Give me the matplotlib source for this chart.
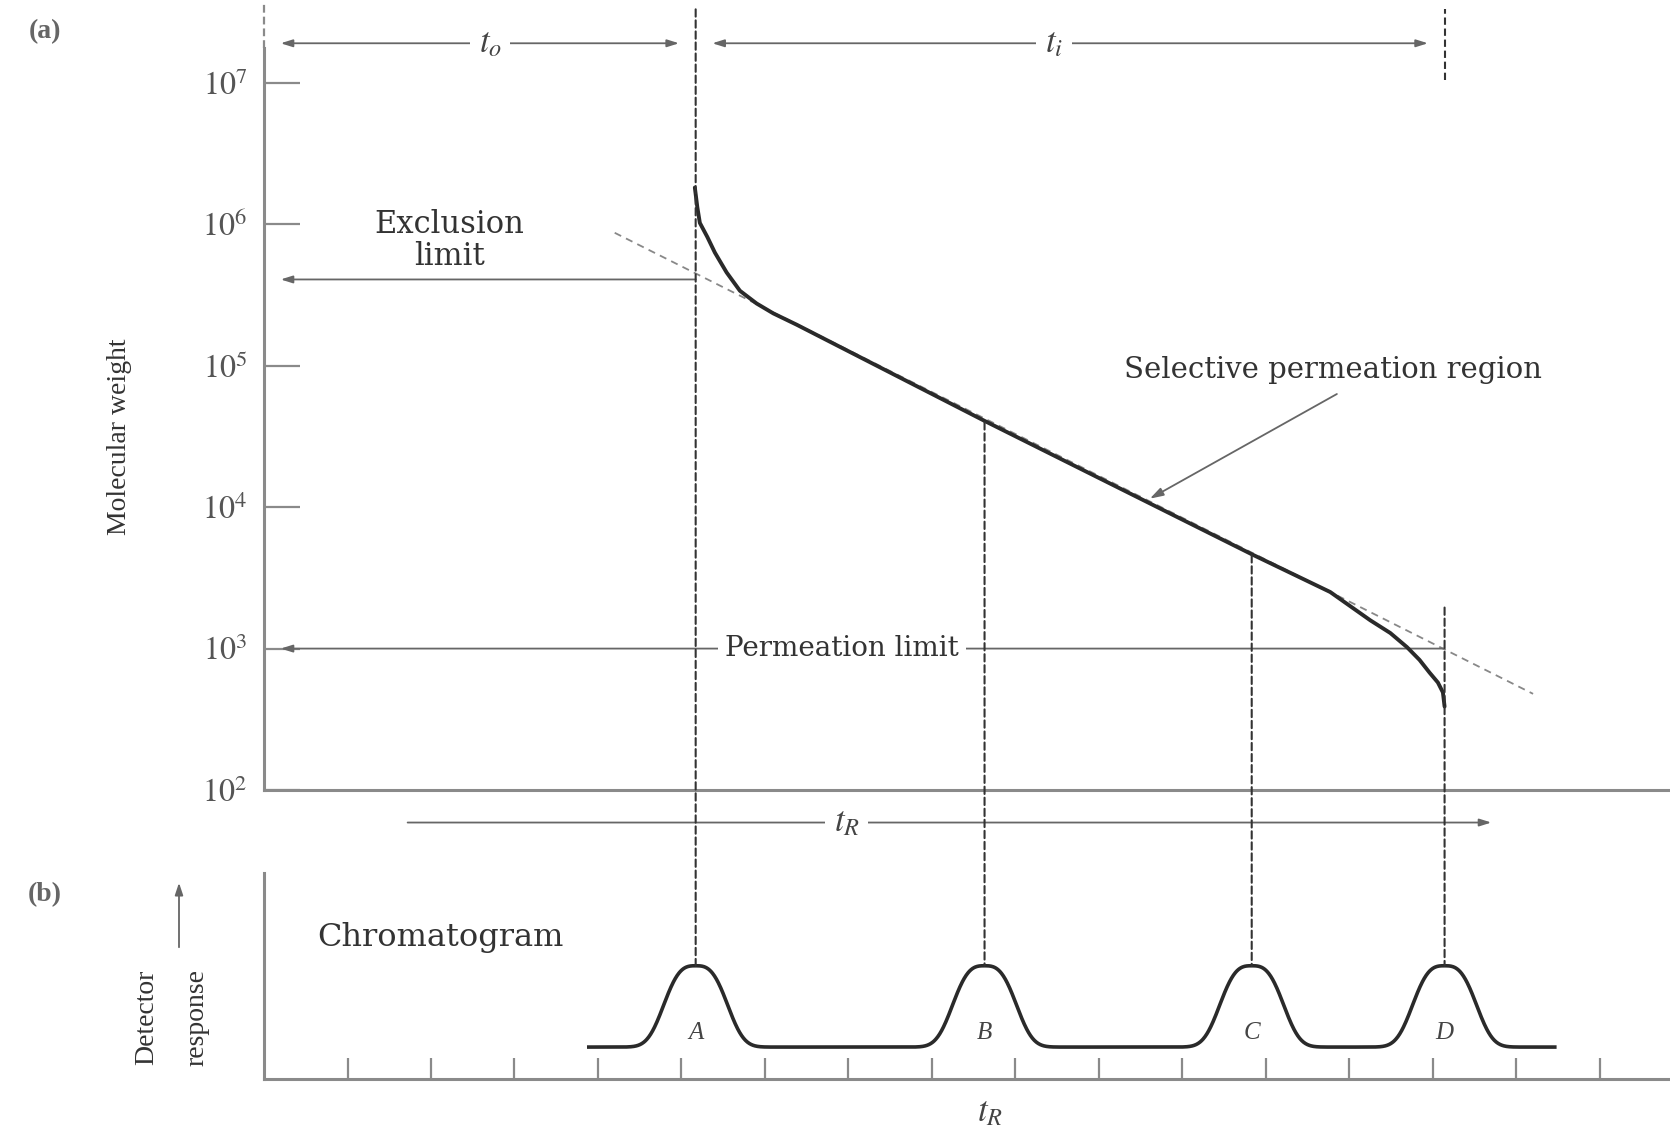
import numpy as np
import matplotlib
matplotlib.use("Agg")
import matplotlib.pyplot as plt
from matplotlib.patches import ConnectionPatch, FancyArrowPatch
from matplotlib.ticker import NullLocator

plt.rcParams['font.family'] = ['Liberation Serif', 'DejaVu Serif']
plt.rcParams['mathtext.fontset'] = 'stix'

# --- values --------------------------------------------------------
ytick_exp = [2, 3, 4, 5, 6, 7]

# calibration curve: retention time (tick units) vs log10(molecular weight)
curve_t = [5.16, 5.19, 5.22, 5.31, 5.40, 5.54, 5.70, 5.90, 6.10, 6.38,
           8.63, 11.82, 12.77, 13.01, 13.25, 13.49, 13.69, 13.84, 13.96,
           14.06, 14.12, 14.14]
curve_logmw = [6.26, 6.12, 6.01, 5.91, 5.80, 5.66, 5.53, 5.44, 5.37, 5.29,
               4.61, 3.67, 3.40, 3.30, 3.20, 3.11, 3.01, 2.92, 2.83,
               2.76, 2.69, 2.59]

# dashed extrapolation of the linear region
ext_t = [4.20, 15.20]
ext_logmw = [5.94, 2.68]

peak_names = ['A', 'B', 'C', 'D']
peak_t = [5.17, 8.63, 11.83, 14.14]
peak_curve_logmw = [7.52, 4.60, 3.66, 3.29]   # where each drop line starts
peak_height = 1.10
peak_halfwidth = 0.44
baseline_level = 0.31
baseline_t = [3.89, 15.46]

exclusion_logmw = 5.61
permeation_logmw = 3.0
t_arrow_logmw = 7.28
tR_arrow_t = [1.72, 14.70]
tR_arrow_logmw = 1.77

xticks = list(range(1, 17))

# --- figure ---------------------------------------------------------
fig = plt.figure(figsize=(16.7, 11.31), dpi=100)
xl = (0, 16.84)
axc = '#8a8a8a'
ink = '#2a2a2a'
dash = (0, (3.5, 1.8))

ax1 = fig.add_axes([0.1581, 0.3015, 0.8419, 0.694])
ax2 = fig.add_axes([0.1581, 0.046, 0.8419, 0.182])

# (a) calibration plot
ax1.set_yscale('log')
ax1.set_xlim(xl)
ax1.set_ylim(1e2, 10**7.55)
for s in ['top', 'right']:
    ax1.spines[s].set_visible(False)
ax1.spines['left'].set_bounds(1e2, 10**7.25)
for s in ['left', 'bottom']:
    ax1.spines[s].set_color(axc)
    ax1.spines[s].set_linewidth(2.2)
ax1.plot([0, 0], [10**7.25, 10**7.56], color=axc, lw=1.6, ls=dash, clip_on=False)
ax1.set_xticks([])
ax1.set_yticks([10.0**e for e in ytick_exp])
ax1.set_yticklabels([rf'$10^{{{e}}}$' for e in ytick_exp], fontsize=23, color='#555')
ax1.yaxis.set_minor_locator(NullLocator())
ax1.tick_params(axis='y', direction='in', length=26, width=1.6, color=axc, pad=12)

ax1.plot(curve_t, [10**v for v in curve_logmw], color=ink, lw=2.8,
         solid_capstyle='round', solid_joinstyle='round', zorder=4)
ax1.plot(ext_t, [10**v for v in ext_logmw], color='#888', lw=1.3, ls=(0, (4, 3)))

arrow_kw = dict(arrowstyle='<|-|>,head_length=0.7,head_width=0.22', color='#666',
                lw=1.3, shrinkA=12, shrinkB=12)
ax1.annotate('', xy=(0, 10**t_arrow_logmw), xytext=(peak_t[0], 10**t_arrow_logmw),
             arrowprops=arrow_kw, annotation_clip=False)
ax1.annotate('', xy=(peak_t[0], 10**t_arrow_logmw), xytext=(peak_t[3], 10**t_arrow_logmw),
             arrowprops=arrow_kw, annotation_clip=False)
lbl_box = dict(boxstyle='square,pad=0.25', fc='white', ec='none')
ax1.text(2.71, 10**t_arrow_logmw, r'$t_o$', fontsize=25, ha='center', va='center',
         color='#444', bbox=lbl_box)
ax1.text(9.46, 10**t_arrow_logmw, r'$t_i$', fontsize=25, ha='center', va='center',
         color='#444', bbox=lbl_box)

one_arrow = dict(arrowstyle='-|>,head_length=0.7,head_width=0.22', color='#666',
                 lw=1.3, shrinkA=0, shrinkB=12)
ax1.annotate('', xy=(0, 10**exclusion_logmw), xytext=(peak_t[0], 10**exclusion_logmw),
             arrowprops=one_arrow)
ax1.annotate('', xy=(0, 10**permeation_logmw), xytext=(peak_t[3], 10**permeation_logmw),
             arrowprops=one_arrow)
ax1.annotate('', xy=(tR_arrow_t[1], 10**tR_arrow_logmw), xytext=(tR_arrow_t[0], 10**tR_arrow_logmw),
             arrowprops=dict(arrowstyle='-|>,head_length=0.7,head_width=0.22',
                             color='#666', lw=1.3, shrinkA=0, shrinkB=0),
             annotation_clip=False)
ax1.text(6.98, 10**tR_arrow_logmw, r'$t_R$', fontsize=25, ha='center', va='center',
         color='#444', bbox=lbl_box, clip_on=False)

ax1.text(2.22, 10**5.885, 'Exclusion\nlimit', fontsize=22, ha='center', va='center',
         color='#333', linespacing=1.05, family='DejaVu Serif')
ax1.text(6.92, 10**permeation_logmw, 'Permeation limit', fontsize=20, ha='center',
         va='center', color='#333', family='DejaVu Serif', bbox=lbl_box)
ax1.text(12.80, 10**4.97, 'Selective permeation region', fontsize=21, ha='center',
         va='center', color='#333', family='DejaVu Serif')
ax1.annotate('', xy=(10.61, 10**4.06), xytext=(12.85, 10**4.80),
             arrowprops=dict(arrowstyle='-|>,head_length=0.8,head_width=0.25',
                             color='#666', lw=1.3, shrinkA=0, shrinkB=0))

# (b) chromatogram
ax2.set_xlim(xl)
ax2.set_ylim(0, 2)
for s in ['top', 'right']:
    ax2.spines[s].set_visible(False)
for s in ['left', 'bottom']:
    ax2.spines[s].set_color(axc)
    ax2.spines[s].set_linewidth(2.2)
ax2.set_yticks([])
ax2.set_xticks(xticks)
ax2.set_xticklabels([])
ax2.tick_params(axis='x', direction='in', length=15, width=1.6, color=axc)

tt = np.linspace(baseline_t[0], baseline_t[1], 2000)
sig = np.full_like(tt, baseline_level)
for c in peak_t:
    sig += (peak_height - baseline_level) * np.exp(-(np.abs(tt - c) / peak_halfwidth) ** 3)
ax2.plot(tt, sig, color=ink, lw=2.6)
for name, c in zip(peak_names, peak_t):
    ax2.text(c, 0.45, name, fontsize=18, style='italic', ha='center', va='center', color='#444')

ax2.text(0.64, 1.37, 'Chromatogram', fontsize=23, ha='left', va='center', color='#333',
         family='DejaVu Serif')
ax2.text(8.70, -0.33, r'$t_R$', fontsize=25, ha='center', va='center', color='#444',
         clip_on=False)

# drop lines linking the two panels
for c, top in zip(peak_t, peak_curve_logmw):
    con = ConnectionPatch(xyA=(c, 10**top), coordsA=ax1.transData,
                          xyB=(c, peak_height), coordsB=ax2.transData,
                          color='#333', lw=1.5, linestyle=dash, zorder=3)
    fig.add_artist(con)
ax1.plot([peak_t[3], peak_t[3]], [10**7.02, 10**7.52], color='#333', lw=1.5,
         ls=dash, clip_on=False)

# panel labels and axis titles
fig.text(45 / 1670, 1 - 32 / 1131, '(a)', fontsize=20, weight='bold', ha='center',
         va='center', color='#666')
fig.text(45 / 1670, 1 - 895 / 1131, '(b)', fontsize=20, weight='bold', ha='center',
         va='center', color='#666')
fig.text(119 / 1670, 1 - 437 / 1131, 'Molecular weight', fontsize=20, rotation=90,
         ha='center', va='center', color='#333')
fig.text(147 / 1670, 1 - 1017 / 1131, 'Detector', fontsize=20, rotation=90,
         ha='center', va='center', color='#333')
fig.text(197 / 1670, 1 - 1017 / 1131, 'response', fontsize=20, rotation=90,
         ha='center', va='center', color='#333')
fig.add_artist(FancyArrowPatch(
    (179 / 1670, 1 - 950 / 1131), (179 / 1670, 1 - 880 / 1131),
    transform=fig.transFigure, arrowstyle='-|>,head_length=0.6,head_width=0.2',
    color='#666', lw=1.3, mutation_scale=12))

fig.savefig('out.png', dpi=100)
